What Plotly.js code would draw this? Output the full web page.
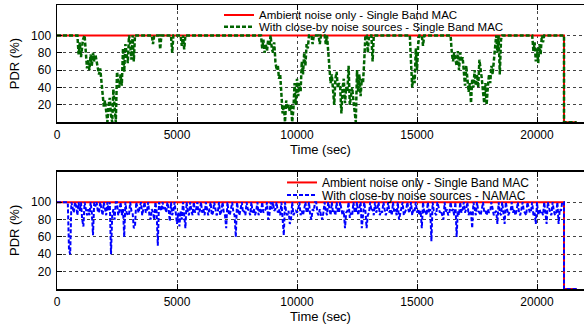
<!DOCTYPE html>
<html><head><meta charset="utf-8">
<script src="https://cdn.plot.ly/plotly-3.0.1.min.js"></script>
<style>html,body{margin:0;padding:0;background:#fff}#chart{width:584px;height:333px}</style>
</head><body><div id="chart"></div>
<script>
// ---- data ----
const ambientTime = [0, 21125, 21125, 21650];
const ambientPDR  = [100, 100, 0, 0];

const singleBandTime = [0,850,900,950,1000,1080,1150,1200,1250,1300,1350,1400,1450,1500,1550,1600,1650,1700,1750,1800,1850,1900,1950,2000,2050,2100,2150,2200,2250,2300,2350,2400,2450,2500,2550,2600,2650,2700,2750,2800,2850,2900,2950,3000,3050,3100,3150,3200,3250,
3950,4000,4050,4250,4300,4350,4750,4800,4850,5150,5200,5250,5300,5350,
8500,8550,8600,8650,8700,8750,8800,8850,8900,8950,9000,9050,9100,9150,9200,9250,9300,9350,9400,9450,9500,9550,9600,9650,9700,9750,9800,9850,9900,9950,10000,10050,10100,10150,10200,10250,10300,10350,10400,10450,10500,10600,10650,10700,10900,10950,11000,11150,11200,11250,11300,11350,11400,11450,11500,11550,11600,11650,11700,11750,11800,11850,11900,11950,12000,12050,12100,12150,12200,12250,12300,12350,12400,12450,12500,12550,12600,12650,12700,12750,12800,12850,12900,12950,13000,13100,13150,13200,
14700,14750,14800,14850,14900,14950,15000,15050,15100,15200,15250,15300,
16400,16450,16500,16550,16600,16650,16700,16750,16800,16850,16900,16950,17000,17050,17100,17150,17200,17250,17300,17350,17400,17450,17500,17550,17600,17650,17700,17750,17800,17850,17900,17950,18000,18050,18100,18150,18200,18250,18300,18350,18400,18450,18500,18550,
19800,19850,19900,19950,20000,20050,20100,20150,20200,20250,20300,21125,21125,21650];
const singleBandPDR = [100,100,78,92,75,95,100,85,62,72,60,78,65,80,70,78,70,58,55,62,45,30,18,25,8,0,20,28,8,0,38,20,0,58,48,40,55,42,85,58,90,78,68,100,90,72,100,70,100,
100,90,100,100,84,100,100,80,100,100,88,100,84,100,
100,85,95,80,90,82,95,88,100,85,80,92,70,60,66,50,55,30,10,20,0,25,15,20,12,20,0,15,45,20,50,30,45,35,70,55,80,65,90,85,100,100,90,100,100,90,100,100,90,100,80,62,45,55,30,20,50,58,40,45,40,10,40,50,22,40,35,65,20,30,40,25,10,0,60,35,55,30,50,45,70,100,100,80,100,100,70,100,
100,60,40,55,45,85,60,90,100,100,88,100,
100,80,70,80,72,65,82,60,80,70,75,55,42,65,48,35,45,22,50,40,60,42,55,40,72,62,50,35,22,45,20,40,55,45,65,55,75,85,100,80,100,55,95,100,
100,82,92,70,85,68,90,78,100,92,100,100,0,0];

const namacStep = 50; // sampling interval (sec) of the NAMAC series
const namacPDR = [
100,100,100,100,100,100,100,100,100,100,45,40,100,92,88,100,95,85,100,90,
100,80,72,100,90,85,92,85,100,88,62,100,95,100,90,88,100,92,85,100,
90,85,100,90,100,40,85,92,80,100,100,85,90,100,85,92,60,100,88,85,
85,100,90,88,70,72,100,92,88,95,100,85,92,100,88,90,100,85,80,92,
88,80,100,90,50,100,95,90,100,92,95,88,100,92,78,100,85,90,100,88,
75,88,72,90,80,100,88,70,100,88,85,100,90,85,100,88,92,100,85,90,
100,88,92,85,100,90,85,92,100,85,88,100,90,85,88,100,85,90,100,88,
85,70,100,88,85,92,100,88,85,60,100,90,85,92,100,88,90,85,100,92,
90,85,100,88,92,85,90,100,85,92,88,100,88,90,92,100,80,85,100,92,
100,90,92,100,88,92,85,100,75,62,100,88,85,90,75,80,100,85,88,90,
88,92,100,85,90,85,92,100,88,90,100,85,80,92,90,100,100,88,85,92,
85,80,88,100,90,85,100,92,85,100,88,90,85,100,90,88,100,92,85,90,
70,88,90,100,82,88,85,100,90,88,100,85,92,100,70,88,100,90,70,85,
88,100,90,92,85,100,88,92,100,85,90,88,100,92,85,90,100,88,92,85,
100,88,92,85,100,80,88,92,100,85,88,92,100,90,88,100,85,92,90,100,
88,92,85,90,70,100,88,90,85,100,88,92,55,100,90,88,85,100,92,88,
90,85,80,100,88,92,85,88,100,90,92,85,100,60,90,85,100,88,92,100,
88,92,100,85,90,88,70,100,92,85,100,90,88,85,92,100,88,90,85,92,
88,90,100,92,85,88,90,75,100,88,85,100,90,75,100,92,85,88,90,100,
88,92,85,90,100,88,85,92,100,90,88,85,100,92,88,90,100,85,88,75,
100,85,92,88,90,85,100,88,75,100,92,88,85,100,90,85,88,100,75,92,
90,100,100];
const namacTailTime = [21125, 21125, 21650];
const namacTailPDR  = [100, 0, 0];

const xTicks = [0, 5000, 10000, 15000, 20000];
const yTicks = [20, 40, 60, 80, 100];
const names = ['Ambient noise only - Single Band MAC',
               'With close-by noise sources - Single Band MAC',
               'With close-by noise sources - NAMAC'];

// ---- build ----
const namacTime = namacPDR.map((_, i) => i * namacStep).concat(namacTailTime);
const namacAll = namacPDR.concat(namacTailPDR);

const traces = [
  {x: ambientTime, y: ambientPDR, xaxis:'x', yaxis:'y', name: names[0], legend:'legend',
   mode:'lines', line:{color:'#ff0000', width:2}},
  {x: singleBandTime, y: singleBandPDR, xaxis:'x', yaxis:'y', name: names[1], legend:'legend2',
   mode:'lines', line:{color:'#006400', width:2.5, dash:'4px,2px'}},
  {x: ambientTime, y: ambientPDR, xaxis:'x2', yaxis:'y2', name: names[0], legend:'legend3',
   mode:'lines', line:{color:'#ff0000', width:2}},
  {x: namacTime, y: namacAll, xaxis:'x2', yaxis:'y2', name: names[2], legend:'legend4',
   mode:'lines', line:{color:'#0000ff', width:2, dash:'4px,2px'}}
];

const FONT = 'Liberation Sans, Arial, Helvetica, sans-serif';
function xAxis(anchor) {
  return {anchor, domain:[0,1], range:[0, 21958], tickvals:xTicks, ticktext:xTicks.map(String),
    ticks:'inside', ticklen:5, tickwidth:1, tickcolor:'#000', showline:true, linecolor:'#000', linewidth:1.5,
    mirror:'ticks', showgrid:true, gridcolor:'#444', griddash:'dot', gridwidth:1, zeroline:false,
    tickfont:{size:12, family:FONT, color:'#000'}, ticklabelstandoff:1,
    title:{text:'Time (sec)', font:{size:13, family:FONT, color:'#000'}, standoff:2}};
}
function yAxis(anchor, domain) {
  return {anchor, domain, range:[0, 135], tickvals:yTicks, ticktext:yTicks.map(String),
    ticks:'inside', ticklen:5, tickwidth:1, tickcolor:'#000', showline:true, linecolor:'#000', linewidth:1.5,
    mirror:false, showgrid:true, gridcolor:'#444', griddash:'dot', gridwidth:1, zeroline:false,
    tickfont:{size:12, family:FONT, color:'#000'}, ticklabelstandoff:2,
    title:{text:'PDR (%)', font:{size:13, family:FONT, color:'#000'}, standoff:8}};
}
function leg(x, y, size) {
  return {x, y, xanchor:'left', yanchor:'middle', bgcolor:'rgba(0,0,0,0)', borderwidth:0,
    font:{size, family:FONT, color:'#000'}};
}
const layout = {
  width:584, height:333, margin:{l:57, r:0, t:3, b:44},
  paper_bgcolor:'#fff', plot_bgcolor:'#fff', font:{family:FONT, color:'#000'},
  showlegend:true,
  xaxis: xAxis('y'), yaxis: yAxis('x', [0.5874, 1]),
  xaxis2: xAxis('y2'), yaxis2: yAxis('x2', [0, 0.4126]),
  legend: leg(0.3074, 0.9650, 11.5),
  legend2: leg(0.3074, 0.9230, 11.5),
  legend3: leg(0.427, 0.3752, 12),
  legend4: leg(0.427, 0.3311, 12)
};
Plotly.newPlot('chart', traces, layout, {staticPlot:true, displayModeBar:false});
</script></body></html>
